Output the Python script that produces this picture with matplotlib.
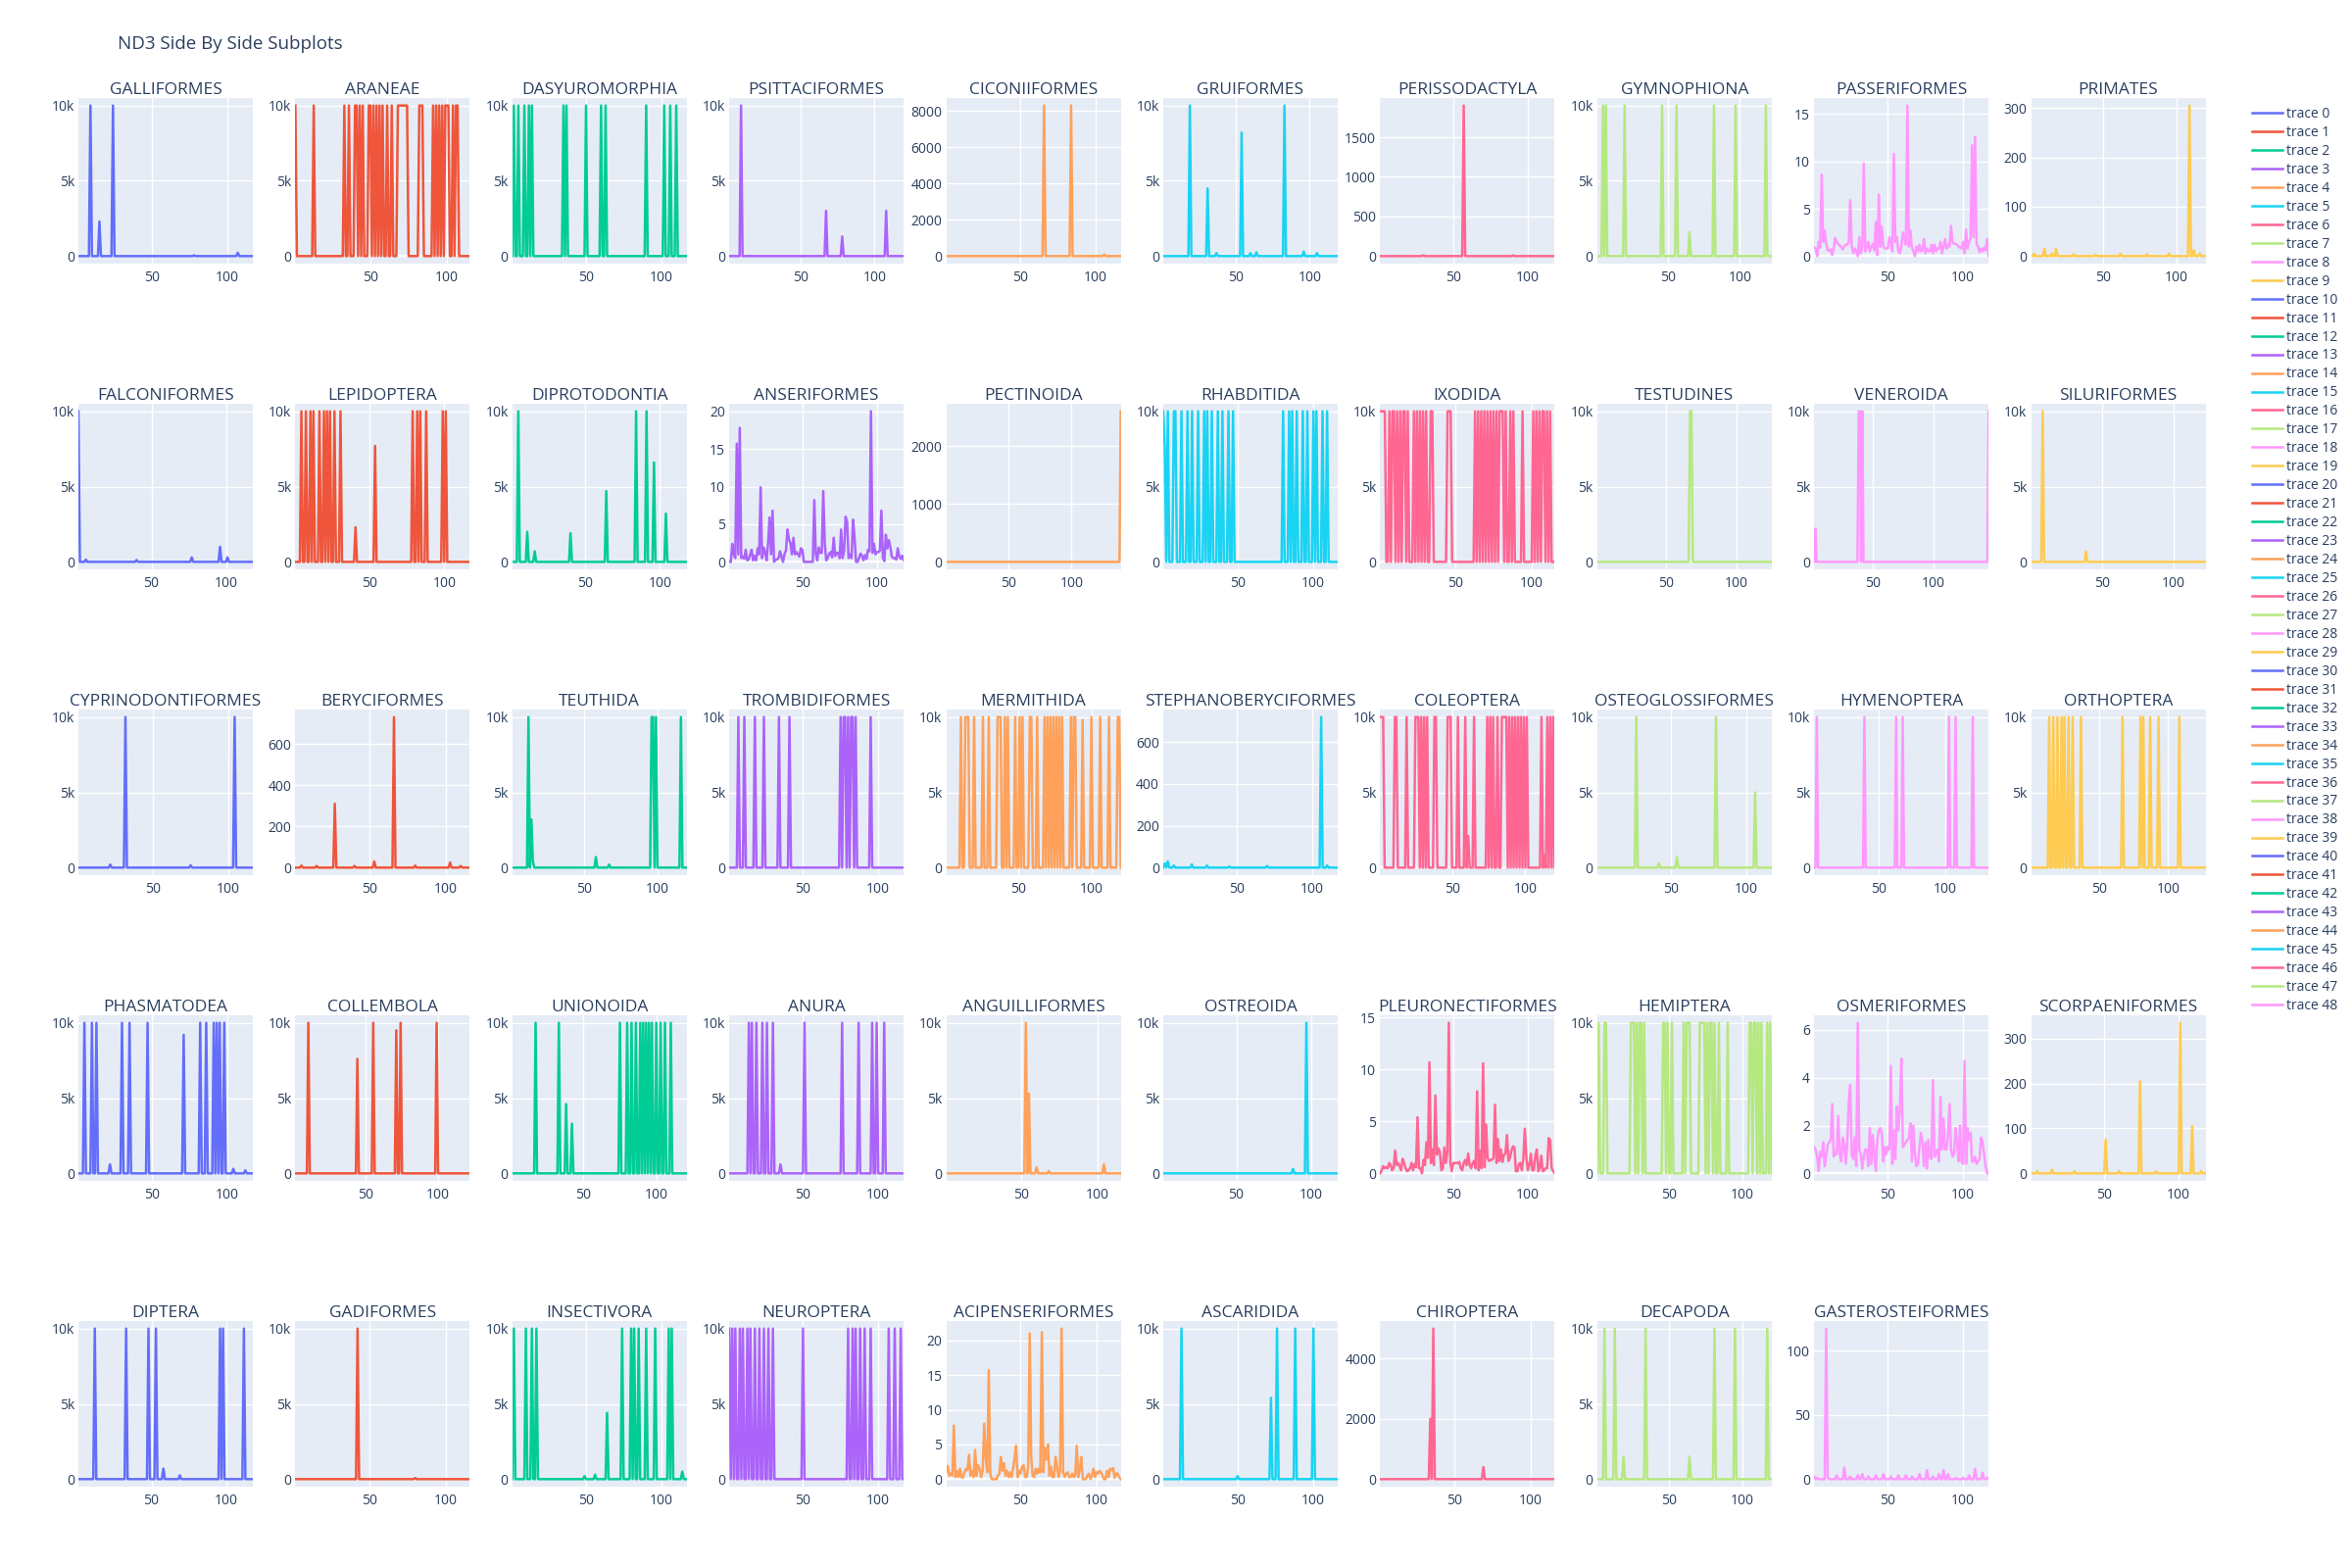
import numpy as np
import matplotlib.pyplot as plt
from matplotlib.ticker import MaxNLocator, FuncFormatter
from matplotlib.lines import Line2D

plt.rcParams["font.family"] = ["Open Sans", "DejaVu Sans"]

TOP = 10000


def hi(*xs):
    # positions where the series sits at the 10k ceiling
    return {x: TOP for x in xs}


orders = [
    "GALLIFORMES", "ARANEAE", "DASYUROMORPHIA", "PSITTACIFORMES", "CICONIIFORMES",
    "GRUIFORMES", "PERISSODACTYLA", "GYMNOPHIONA", "PASSERIFORMES", "PRIMATES",
    "FALCONIFORMES", "LEPIDOPTERA", "DIPROTODONTIA", "ANSERIFORMES", "PECTINOIDA",
    "RHABDITIDA", "IXODIDA", "TESTUDINES", "VENEROIDA", "SILURIFORMES",
    "CYPRINODONTIFORMES", "BERYCIFORMES", "TEUTHIDA", "TROMBIDIFORMES", "MERMITHIDA",
    "STEPHANOBERYCIFORMES", "COLEOPTERA", "OSTEOGLOSSIFORMES", "HYMENOPTERA", "ORTHOPTERA",
    "PHASMATODEA", "COLLEMBOLA", "UNIONOIDA", "ANURA", "ANGUILLIFORMES",
    "OSTREOIDA", "PLEURONECTIFORMES", "HEMIPTERA", "OSMERIFORMES", "SCORPAENIFORMES",
    "DIPTERA", "GADIFORMES", "INSECTIVORA", "NEUROPTERA", "ACIPENSERIFORMES",
    "ASCARIDIDA", "CHIROPTERA", "DECAPODA", "GASTEROSTEIFORMES",
]

# number of positions per panel (sparse panels only)
n_points = {
    "GALLIFORMES": 117, "ARANEAE": 115, "DASYUROMORPHIA": 117, "PSITTACIFORMES": 120,
    "CICONIIFORMES": 117, "GRUIFORMES": 119, "PERISSODACTYLA": 118, "GYMNOPHIONA": 122,
    "PRIMATES": 120, "FALCONIFORMES": 118, "LEPIDOPTERA": 117, "DIPROTODONTIA": 118,
    "PECTINOIDA": 139, "RHABDITIDA": 116, "IXODIDA": 115, "TESTUDINES": 125,
    "VENEROIDA": 146, "SILURIFORMES": 122, "CYPRINODONTIFORMES": 116, "BERYCIFORMES": 116,
    "TEUTHIDA": 120, "TROMBIDIFORMES": 117, "MERMITHIDA": 120, "STEPHANOBERYCIFORMES": 117,
    "COLEOPTERA": 120, "OSTEOGLOSSIFORMES": 117, "HYMENOPTERA": 133, "ORTHOPTERA": 127,
    "PHASMATODEA": 117, "COLLEMBOLA": 122, "UNIONOIDA": 121, "ANURA": 117,
    "ANGUILLIFORMES": 115, "OSTREOIDA": 118, "HEMIPTERA": 120, "SCORPAENIFORMES": 118,
    "DIPTERA": 118, "GADIFORMES": 116, "INSECTIVORA": 117, "NEUROPTERA": 117,
    "ASCARIDIDA": 116, "CHIROPTERA": 116, "DECAPODA": 120, "GASTEROSTEIFORMES": 117,
}

# sparse panels: {position: value}, every other position is 0
galliformes = {9: TOP, 15: 2300, 24: TOP, 78: 50, 107: 220}
araneae = hi(1, 13, 33, 36, 40, 41, 43, 45, 49, 50, 52, 54, 56, 58, 61, 64, 68, 69, 70, 71,
             72, 73, 74, 82, 83, 84, 91, 93, 95, 97, 99, 100, 101, 104, 106, 107)
dasyuromorphia = hi(2, 5, 9, 12, 14, 35, 37, 50, 60, 63, 90, 102, 106, 110)
psittaciformes = {9: TOP, 67: 3000, 78: 1300, 108: 3000}
ciconiiformes = {66: 8300, 84: 8300, 106: 80}
gruiformes = {19: TOP, 31: 4500, 37: 200, 54: 8200, 60: 200, 64: 250, 83: TOP, 96: 300, 105: 200}
perissodactyla = {30: 10, 57: 1900, 90: 10}
gymnophiona = hi(5, 7, 20, 46, 56, 82, 97, 118) | {65: 1600}
primates = {3: 5, 10: 15, 15: 5, 18: 15, 30: 4, 45: 3, 62: 5, 80: 4, 95: 5, 109: 305, 112: 12, 116: 5}
falconiformes = {1: TOP, 6: 150, 40: 120, 77: 300, 96: 1000, 101: 300}
lepidoptera = hi(5, 8, 11, 13, 17, 20, 22, 24, 27, 31, 79, 82, 84, 88, 99, 101) | {41: 2300, 54: 7700}
diprotodontia = {5: TOP, 11: 2000, 16: 700, 40: 1900, 64: 4700, 84: TOP, 91: TOP, 96: 6600, 104: 3200}
pectinoida = {139: 2600}
rhabditida = hi(1, 4, 8, 9, 13, 17, 20, 24, 28, 30, 33, 37, 40, 44, 47,
                80, 84, 86, 89, 93, 96, 100, 102, 106, 109) | {2: 7500}
ixodida = hi(1, 2, 3, 4, 7, 9, 10, 12, 14, 16, 17, 19, 23, 25, 27, 29, 31, 34, 35, 45, 46, 47,
             63, 65, 67, 69, 71, 73, 75, 77, 79, 80, 81, 83, 86, 88, 94, 101, 103, 105, 107,
             108, 110, 112)
testudines = hi(67, 68)
veneroida = hi(38, 39, 41, 146) | {2: 2200}
siluriformes = {9: TOP, 39: 700}
cyprinodontiformes = {22: 200, 32: TOP, 75: 150, 104: TOP}
beryciformes = {5: 10, 15: 8, 27: 310, 40: 8, 53: 30, 66: 730, 80: 10, 103: 25, 110: 8}
teuthida = {12: TOP, 14: 3200, 15: 400, 58: 700, 67: 200, 96: TOP, 97: TOP, 99: TOP, 116: TOP}
trombidiformes = hi(7, 11, 18, 24, 34, 41, 75, 77, 78, 80, 82, 83, 85, 95)
mermithida = hi(11, 14, 15, 16, 20, 26, 30, 36, 37, 38, 41, 43, 48, 51, 53, 58, 59, 63, 68, 70,
                72, 74, 76, 78, 80, 86, 88, 89, 100, 106, 112, 118, 119) | {94: 9800}
stephanoberyciformes = {2: 20, 4: 30, 8: 10, 20: 15, 30: 10, 45: 5, 70: 8, 106: 720, 110: 10}
coleoptera = hi(1, 2, 3, 11, 12, 19, 25, 26, 27, 29, 31, 33, 38, 39, 47, 48, 49, 54, 59, 65, 74,
                76, 78, 81, 84, 85, 86, 87, 89, 91, 93, 95, 97, 99, 101, 111, 115, 117, 119) \
    | {61: 2100, 113: 800}
osteoglossiformes = {27: TOP, 42: 300, 54: 700, 80: TOP, 106: 5000}
hymenoptera = hi(3, 39, 63, 68, 103, 108, 121)
orthoptera = hi(14, 17, 20, 23, 25, 28, 31, 37, 67, 80, 82, 87, 93, 108)
phasmatodea = hi(5, 10, 13, 30, 35, 47, 82, 86, 91, 93, 95, 98) | {22: 600, 71: 9200, 104: 300, 112: 200}
collembola = hi(10, 55, 74, 99) | {44: 7600, 71: 9500}
unionoida = hi(17, 33, 75, 80, 83, 86, 89, 91, 93, 95, 97, 100, 103, 106, 110) | {38: 4600, 42: 3300}
anura = hi(14, 16, 19, 23, 26, 30, 51, 76, 87, 96, 99, 104) | {35: 600}
anguilliformes = {53: TOP, 55: 5300, 60: 400, 68: 150, 104: 600}
ostreoida = {88: 300, 97: TOP}
hemiptera = hi(2, 6, 7, 24, 25, 26, 28, 30, 31, 33, 46, 47, 49, 52, 60, 62, 63, 64, 71, 72, 73,
               74, 76, 78, 79, 81, 84, 90, 105, 106, 108, 109, 111, 113, 117, 119)
scorpaeniformes = {5: 5, 15: 8, 30: 5, 51: 75, 60: 5, 74: 205, 85: 5, 101: 335, 109: 105, 115: 5}
diptera = hi(12, 33, 48, 53, 96, 98, 112) | {58: 700, 69: 250}
gadiformes = {42: TOP, 80: 80}
insectivora = hi(2, 10, 14, 17, 74, 80, 82, 85, 90, 96, 105, 107) | {49: 200, 56: 300, 64: 4400, 114: 500}
neuroptera = hi(1, 3, 5, 8, 10, 13, 15, 18, 21, 24, 27, 30, 50, 80, 83, 85, 88, 91, 95, 107,
                111, 115)
ascaridida = hi(13, 76, 88, 100) | {50: 200, 72: 5400}
chiroptera = {34: 2000, 36: 5000, 69: 400}
decapoda = hi(6, 13, 34, 81, 95, 117) | {19: 1500, 64: 1500}
gasterosteiformes = {1: 2, 3: 1, 9: 117, 10: 1, 16: 3, 21: 9, 25: 2, 30: 3, 33: 4, 37: 2, 42: 3,
                     47: 4, 52: 2, 57: 3, 62: 3, 66: 2, 71: 4, 76: 7, 80: 2, 84: 4, 87: 7, 90: 4,
                     95: 1, 100: 1, 104: 3, 108: 8, 113: 5, 116: 1}

# dense panels: full series read point by point
passeriformes = [
    0.9, 0.8, 0.0, 1.5, 0.9, 8.6, 1.5, 2.7, 1.3, 0.6,
    0.6, 0.7, 0.1, 0.8, 1.9, 1.5, 1.3, 1.1, 1.0, 0.7,
    1.0, 1.2, 1.2, 1.5, 5.9, 1.0, 0.3, 0.8, 0.5, 0.0,
    2.0, 0.3, 1.0, 9.8, 0.5, 1.0, 1.5, 0.5, 1.0, 1.3,
    0.6, 3.6, 0.1, 6.5, 1.0, 3.1, 1.0, 0.8, 0.8, 0.8,
    2.0, 1.5, 0.5, 10.8, 1.5, 2.0, 0.5, 0.3, 1.0, 2.5,
    2.0, 1.2, 15.9, 1.0, 2.7, 0.9, 0.5, 0.0, 1.0, 0.5,
    1.2, 0.5, 0.6, 1.8, 0.3, 0.8, 0.5, 0.5, 1.2, 0.3,
    1.2, 0.5, 0.8, 0.8, 1.5, 0.3, 1.0, 1.8, 0.8, 1.2,
    1.0, 3.2, 1.5, 1.3, 1.3, 1.2, 1.0, 0.9, 0.8, 1.5,
    0.3, 2.8, 0.8, 1.5, 1.8, 11.7, 2.0, 12.6, 1.3, 1.0,
    0.4, 0.8, 0.5, 0.9, 0.6, 1.8, 0.0,
]
anseriformes = [
    0.0, 0.0, 2.4, 1.0, 0.5, 15.7, 1.0, 17.8, 0.5, 0.7,
    0.4, 1.6, 0.2, 0.3, 1.0, 1.6, 0.2, 0.8, 0.2, 1.8,
    1.0, 9.9, 0.5, 1.9, 1.3, 0.2, 2.5, 5.9, 1.0, 6.8,
    0.0, 0.3, 0.3, 0.5, 1.4, 0.7, 0.0, 1.0, 1.5, 4.3,
    3.0, 2.5, 1.0, 3.2, 1.0, 1.3, 1.0, 0.7, 1.8, 1.6,
    0.0, 0.0, 0.0, 0.0, 0.0, 0.0, 0.0, 8.2, 1.0, 0.2,
    1.9, 1.2, 1.2, 9.4, 2.5, 0.2, 0.5, 1.1, 1.3, 0.6,
    3.2, 0.8, 1.2, 1.2, 0.5, 4.3, 0.5, 1.5, 6.0, 5.3,
    0.5, 1.0, 0.5, 5.6, 3.2, 0.0, 0.0, 0.5, 1.1, 0.8,
    0.2, 0.9, 0.4, 1.6, 1.4, 20.0, 1.2, 2.4, 1.0, 1.3,
    1.3, 1.5, 6.8, 0.5, 0.1, 3.6, 1.8, 2.9, 2.0, 0.7,
    0.5, 0.5, 0.3, 1.8, 0.7, 0.4, 0.8, 0.2,
]
pleuronectiformes = [
    0.0, 0.3, 0.7, 0.5, 0.6, 0.5, 1.0, 0.8, 0.3, 0.5,
    2.2, 0.8, 1.0, 0.7, 0.3, 1.4, 1.0, 0.5, 0.2, 0.3,
    0.5, 1.0, 0.3, 0.9, 0.6, 5.4, 0.5, 0.5, 0.0, 1.3,
    0.8, 3.0, 1.5, 10.7, 1.0, 2.3, 0.8, 7.5, 1.8, 2.4,
    2.1, 0.3, 0.5, 2.5, 1.0, 2.0, 14.5, 1.1, 0.2, 1.0,
    1.0, 1.0, 1.0, 1.1, 0.5, 0.3, 1.0, 1.3, 0.8, 1.9,
    0.8, 0.5, 1.0, 1.2, 0.5, 7.9, 0.3, 2.2, 0.5, 10.6,
    0.6, 4.7, 1.5, 1.2, 1.3, 1.3, 1.5, 6.6, 1.0, 3.3,
    1.2, 2.3, 1.1, 1.8, 1.9, 3.7, 1.2, 1.5, 2.2, 2.6,
    2.5, 0.2, 0.2, 0.9, 1.0, 0.3, 1.5, 4.3, 1.5, 0.3,
    0.8, 1.9, 0.3, 0.3, 1.7, 2.3, 0.2, 0.5, 1.7, 0.2,
    0.3, 0.5, 0.5, 3.4, 3.2, 0.5, 0.2, 0.0,
]
osmeriformes = [
    1.1, 1.0, 0.7, 0.1, 0.9, 0.7, 1.3, 0.3, 0.7, 1.2,
    1.3, 1.4, 2.9, 0.7, 0.9, 0.8, 2.4, 0.8, 0.5, 1.5,
    1.2, 0.4, 1.3, 3.0, 3.7, 0.8, 0.6, 1.5, 0.3, 6.3,
    1.0, 0.8, 0.2, 0.7, 1.0, 1.0, 0.3, 1.9, 0.4, 1.6,
    0.7, 0.1, 1.4, 1.8, 1.9, 1.7, 0.5, 1.1, 0.8, 1.1,
    1.0, 4.5, 0.4, 1.8, 0.6, 2.8, 1.8, 2.7, 4.8, 1.1,
    1.2, 1.3, 1.4, 1.5, 2.1, 0.5, 2.0, 0.8, 0.3, 0.4,
    1.1, 1.7, 1.3, 0.3, 1.3, 0.2, 1.4, 0.7, 0.6, 3.9,
    0.7, 0.8, 1.0, 0.5, 3.2, 1.0, 2.3, 1.0, 1.0, 1.6,
    2.9, 1.0, 0.7, 0.8, 1.9, 1.3, 0.5, 2.0, 0.5, 0.4,
    4.7, 0.4, 1.9, 1.4, 1.7, 0.5, 0.5, 0.7, 0.4, 0.5,
    0.6, 1.5, 1.3, 0.8, 0.3, 0.0, 0.0,
]
acipenseriformes = [
    1.0, 1.9, 0.5, 0.8, 0.5, 7.7, 0.3, 1.2, 0.3, 1.5,
    0.3, 0.2, 1.0, 1.5, 1.3, 3.5, 0.5, 1.2, 0.3, 4.2,
    0.5, 2.0, 1.5, 0.3, 1.3, 8.0, 3.0, 1.0, 15.7, 0.8,
    0.0, 0.0, 0.0, 0.0, 0.5, 0.8, 3.2, 1.2, 2.3, 0.5,
    1.2, 0.3, 1.0, 0.3, 1.5, 3.0, 4.8, 0.3, 1.2, 0.8,
    1.8, 2.0, 0.3, 0.3, 1.8, 21.0, 3.0, 0.5, 0.3, 1.5,
    0.8, 1.5, 1.0, 21.2, 1.0, 4.5, 2.8, 5.0, 0.5, 1.8,
    0.3, 0.3, 3.2, 1.8, 0.3, 1.0, 21.7, 1.0, 0.3, 0.8,
    1.0, 0.3, 0.3, 0.8, 0.3, 0.5, 4.8, 0.3, 1.5, 3.2,
    0.0, 0.0, 0.0, 0.5, 0.8, 0.0, 0.5, 1.5, 0.3, 1.0,
    0.8, 1.2, 1.0, 0.5, 0.0, 0.0, 1.2, 0.3, 1.5, 1.3,
    1.6, 0.2, 0.8, 0.8, 0.3, 0.0,
]

panel_data = [
    galliformes, araneae, dasyuromorphia, psittaciformes, ciconiiformes,
    gruiformes, perissodactyla, gymnophiona, passeriformes, primates,
    falconiformes, lepidoptera, diprotodontia, anseriformes, pectinoida,
    rhabditida, ixodida, testudines, veneroida, siluriformes,
    cyprinodontiformes, beryciformes, teuthida, trombidiformes, mermithida,
    stephanoberyciformes, coleoptera, osteoglossiformes, hymenoptera, orthoptera,
    phasmatodea, collembola, unionoida, anura, anguilliformes,
    ostreoida, pleuronectiformes, hemiptera, osmeriformes, scorpaeniformes,
    diptera, gadiformes, insectivora, neuroptera, acipenseriformes,
    ascaridida, chiroptera, decapoda, gasterosteiformes,
]

palette = ["#636EFA", "#EF553B", "#00CC96", "#AB63FA", "#FFA15A",
           "#19D3F3", "#FF6692", "#B6E880", "#FF97FF", "#FECB52"]
TEXT = "#2a3f5f"
BG = "#E5ECF6"


def to_series(name, data):
    if isinstance(data, dict):
        y = np.zeros(n_points[name])
        for pos, val in data.items():
            y[pos - 1] = val
    else:
        y = np.asarray(data, dtype=float)
    return np.arange(1, len(y) + 1), y


def k_fmt(v, pos):
    if v == 0:
        return "0"
    return f"{v / 1000:g}k"


W, H = 2400, 1600
fig = plt.figure(figsize=(24, 16), dpi=100)

handles = []
for i, (name, data) in enumerate(zip(orders, panel_data)):
    row, col = divmod(i, 10)
    left = 80 + col * 221.4
    top = 100 + row * 312
    ax = fig.add_axes([left / W, 1 - (top + 169) / H, 178 / W, 169 / H])
    ax.set_facecolor(BG)

    x, y = to_series(name, data)
    color = palette[i % 10]
    ax.plot(x, y, color=color, lw=1.8, zorder=3)
    handles.append(Line2D([], [], color=color, lw=1.8))

    ax.set_xlim(x[0], x[-1])
    ax.margins(y=0.05)
    ax.axhline(0, color="white", lw=1.6, zorder=1)

    ax.xaxis.set_major_locator(MaxNLocator(nbins=5, steps=[1, 2, 5, 10]))
    ax.yaxis.set_major_locator(MaxNLocator(nbins=5, steps=[1, 2, 5, 10]))
    if y.max() >= 10000:
        ax.yaxis.set_major_formatter(FuncFormatter(k_fmt))
    else:
        ax.yaxis.set_major_formatter(FuncFormatter(lambda v, p: f"{v:g}"))

    ax.grid(True, color="white", lw=1.0)
    ax.set_axisbelow(True)
    for s in ax.spines.values():
        s.set_visible(False)
    ax.tick_params(length=0, labelsize=10, colors=TEXT)
    ax.tick_params(axis="y", pad=3)
    ax.tick_params(axis="x", pad=5)
    ax.set_title(name, fontsize=12.5, color=TEXT, pad=3)

fig.text(120 / W, 1 - 50 / H, "ND3 Side By Side Subplots", fontsize=13.5,
         color=TEXT, va="baseline", ha="left")

fig.legend(handles, [f"trace {i}" for i in range(len(orders))],
           loc="upper left", bbox_to_anchor=(2298 / W, 1 - 109 / H),
           frameon=False, fontsize=10, labelcolor=TEXT,
           handlelength=2.25, handletextpad=0.3, labelspacing=0.285,
           borderaxespad=0, borderpad=0)

fig.savefig("out.png", dpi=100)
plt.close(fig)
